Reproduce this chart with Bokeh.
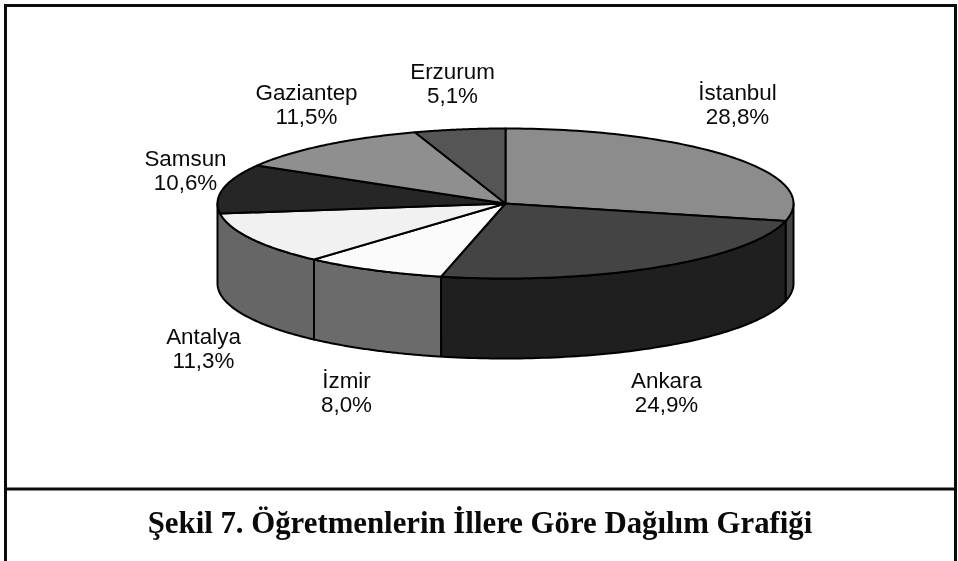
import numpy as np
from bokeh.plotting import figure
from bokeh.models import ColumnDataSource
from bokeh.core.properties import value
from bokeh.embed import file_html
from bokeh.resources import INLINE

cities = ["İstanbul", "Ankara", "İzmir", "Antalya", "Samsun", "Gaziantep", "Erzurum"]
shares = [28.8, 24.9, 8.0, 11.3, 10.6, 11.5, 5.1]
share_labels = ["28,8%", "24,9%", "8,0%", "11,3%", "10,6%", "11,5%", "5,1%"]
title_text = "Şekil 7. Öğretmenlerin İllere Göre Dağılım Grafiği"

top_colors = ["#8c8c8c", "#444444", "#fbfbfb", "#f1f1f1", "#262626", "#8f8f8f", "#555555"]
side_colors = ["#444444", "#1f1f1f", "#6b6b6b", "#666666", "#262626", "#8f8f8f", "#555555"]

label_cx = [737, 666, 346, 203, 185, 306, 452]
label_y1 = [92, 380, 380, 336, 158, 92, 71]
LINE_GAP = 24

W, H = 958, 561
CX, CY, RX, RY, DEPTH = 505, 203, 288, 75, 80
FRONT_END = 3 * np.pi / 2
MIN_SIDE = 0.2  # a front wall narrower than this merges into its neighbour


def ex(t):
    return CX + RX * np.sin(t)


def ey(t):
    return CY - RY * np.cos(t)


fractions = np.array(shares) / sum(shares)
edges = np.concatenate([[0], np.cumsum(fractions)]) * 2 * np.pi

top_xs, top_ys, side_xs, side_ys, side_fill = [], [], [], [], []
for i in range(len(cities)):
    t = np.linspace(edges[i], edges[i + 1], 80)
    top_xs.append([CX] + list(ex(t)))
    top_ys.append([CY] + list(ey(t)))
    a = max(edges[i], np.pi / 2)
    b = edges[i + 1]
    if b > FRONT_END - MIN_SIDE:
        b = FRONT_END
    if b > a and a < FRONT_END - MIN_SIDE:
        s = np.linspace(a, b, 80)
        side_xs.append(list(ex(s)) + list(ex(s[::-1])))
        side_ys.append(list(ey(s)) + list(ey(s[::-1]) + DEPTH))
        side_fill.append(side_colors[i])

p = figure(width=W, height=H, x_range=(0, W), y_range=(H, 0), toolbar_location=None,
           output_backend="svg", min_border=0, outline_line_color=None,
           background_fill_color="white", border_fill_color="white",
           styles={"position": "fixed", "left": "0px", "top": "0px"})
p.xaxis.visible = False
p.yaxis.visible = False
p.grid.visible = False

# frame
p.multi_line(xs=[[5, 5], [955, 955], [3.5, 956.5], [5, 955]],
             ys=[[4, H], [4, H], [5, 5], [488.5, 488.5]],
             line_color="#0c0c0c", line_width=3)

p.patches("x", "y", source=ColumnDataSource(dict(x=side_xs, y=side_ys, c=side_fill)),
          fill_color="c", line_color="black", line_width=2, line_join="round")
p.patches("x", "y", source=ColumnDataSource(dict(x=top_xs, y=top_ys, c=top_colors)),
          fill_color="c", line_color="black", line_width=2, line_join="round")

p.text(x=label_cx, y=label_y1, text=cities, text_font=value("Liberation Sans"),
       text_font_size="22.4px", text_align="center", text_baseline="middle", text_color="#0a0a0a")
p.text(x=label_cx, y=[v + LINE_GAP for v in label_y1], text=share_labels,
       text_font=value("Liberation Sans"), text_font_size="22.4px", text_align="center",
       text_baseline="middle", text_color="#0a0a0a")
p.text(x=[479.5], y=[522], text=[title_text], text_font=value("Liberation Serif"),
       text_font_style="bold", text_font_size="30.8px", text_align="center",
       text_baseline="middle", text_color="#0a0a0a")

open("out.html", "w").write(file_html(p, INLINE))
